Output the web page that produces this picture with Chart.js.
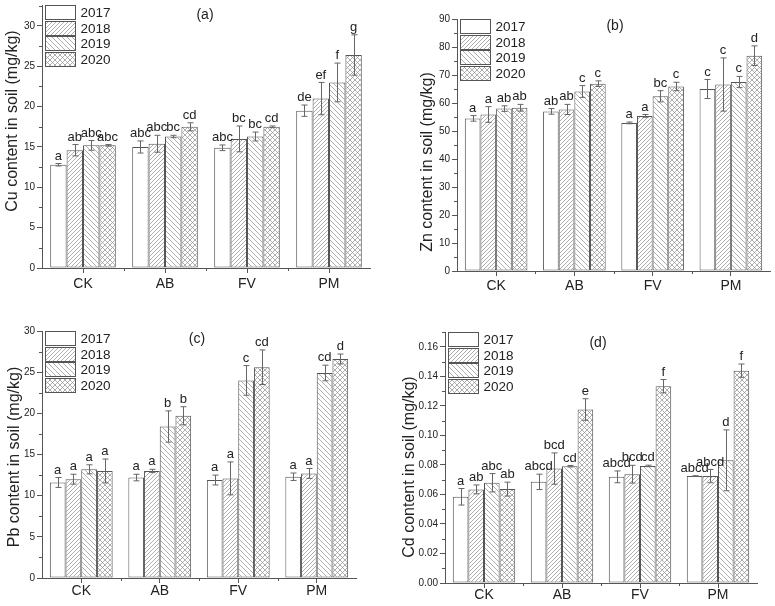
<!DOCTYPE html>
<html>
<head>
<meta charset="utf-8">
<script src="https://cdn.jsdelivr.net/npm/chart.js@4.4.0/dist/chart.umd.min.js"></script>
<style>
  html, body { margin: 0; padding: 0; background: #fff; }
  #page { position: relative; width: 775px; height: 606px; overflow: hidden; }
  canvas { position: absolute; }
</style>
</head>
<body>
<div id="page">
  <canvas id="cu"></canvas>
  <canvas id="zn"></canvas>
  <canvas id="pb"></canvas>
  <canvas id="cd"></canvas>
</div>
<script>
// categories and years
const categories = ['CK', 'AB', 'FV', 'PM'];
const years = ['2017', '2018', '2019', '2020'];

// Cu (a) - one row per year, values per category
const cuMean = [[12.8, 15.0, 14.9, 19.5], [14.6, 15.4, 16.0, 21.0], [15.2, 16.3, 16.3, 23.0], [15.2, 17.5, 17.5, 26.4]];
const cuErr = [[0.15, 0.75, 0.35, 0.7], [0.7, 1.05, 1.6, 2.0], [0.6, 0.15, 0.55, 2.4], [0.1, 0.5, 0.1, 2.5]];
const cuSig = [['a', 'abc', 'abc', 'de'], ['ab', 'abc', 'bc', 'ef'], ['abc', 'bc', 'bc', 'f'], ['abc', 'cd', 'cd', 'g']];

// Zn (b)
const znMean = [[54.5, 57.0, 52.9, 65.0], [55.9, 57.7, 55.4, 66.6], [58.0, 64.1, 62.4, 67.5], [58.3, 66.9, 65.9, 76.9]];
const znErr = [[1.0, 1.0, 0.3, 3.4], [2.8, 1.8, 0.5, 9.5], [1.0, 2.1, 2.0, 2.0], [1.2, 1.0, 1.5, 3.5]];
const znSig = [['a', 'ab', 'a', 'c'], ['a', 'ab', 'a', 'c'], ['ab', 'c', 'bc', 'c'], ['ab', 'c', 'c', 'd']];

// Pb (c)
const pbMean = [[11.6, 12.2, 11.9, 12.3], [12.0, 13.0, 12.1, 12.7], [13.2, 18.4, 24.0, 24.9], [13.0, 19.7, 25.6, 26.6]];
const pbErr = [[0.6, 0.4, 0.6, 0.45], [0.6, 0.2, 2.0, 0.6], [0.55, 1.9, 1.8, 0.95], [1.45, 1.1, 2.1, 0.6]];
const pbSig = [['a', 'a', 'a', 'a'], ['a', 'a', 'a', 'a'], ['a', 'b', 'c', 'cd'], ['a', 'b', 'cd', 'd']];

// Cd (d)
const cdMean = [[0.0584, 0.0685, 0.0719, 0.0724], [0.0634, 0.0775, 0.0737, 0.0724], [0.0679, 0.0791, 0.0793, 0.0831], [0.0636, 0.1175, 0.1333, 0.1438]];
const cdErr = [[0.0056, 0.0052, 0.004, 0.0003], [0.003, 0.0106, 0.006, 0.0045], [0.0062, 0.0005, 0.0005, 0.0206], [0.0047, 0.0073, 0.0045, 0.0045]];
const cdSig = [['a', 'abcd', 'abcd', 'abcd'], ['ab', 'bcd', 'bcd', 'abcd'], ['abc', 'cd', 'cd', 'd'], ['ab', 'e', 'f', 'f']];

const FONT = '"Liberation Sans", Arial, sans-serif';
const INK = '#222';
const LINE = '#555';

// hatch fills like the Origin patterns
function hatch(kind, s) {
    const c = document.createElement('canvas');
    c.width = s; c.height = s;
    const g = c.getContext('2d');
    g.fillStyle = '#fff';
    g.fillRect(0, 0, s, s);
    g.strokeStyle = '#8c8c8c';
    g.lineWidth = 0.7;
    g.beginPath();
    if (kind !== 'back') {
        g.moveTo(0, s); g.lineTo(s, 0);
    }
    if (kind !== 'fwd') {
        g.moveTo(0, 0); g.lineTo(s, s);
    }
    g.stroke();
    return g.createPattern(c, 'repeat');
}
const fills = ['#ffffff', hatch('fwd', 4), hatch('back', 5), hatch('cross', 5)];

// page layout: box = canvas rect, area = plot rect (page px)
const panels = [
    { id: 'cu', box: [0, -10, 387, 310], area: [42, 5, 370, 268], max: 32.6, step: 5, digits: 0,
      mean: cuMean, err: cuErr, sig: cuSig, title: 'Cu content in soil (mg/kg)', titlePos: [13, 121], tag: '(a)', tagPos: [205, 15], xPad: 3 },
    { id: 'zn', box: [387, -10, 388, 310], area: [457, 19, 770, 271], max: 90, step: 10, digits: 0,
      mean: znMean, err: znErr, sig: znSig, title: 'Zn content in soil (mg/kg)', titlePos: [428, 162], tag: '(b)', tagPos: [615, 26], xPad: 2 },
    { id: 'pb', box: [0, 290, 387, 316], area: [42, 331, 356, 578], max: 30, step: 5, digits: 0,
      mean: pbMean, err: pbErr, sig: pbSig, title: 'Pb content in soil (mg/kg)', titlePos: [15, 457], tag: '(c)', tagPos: [197, 339], xPad: 0 },
    { id: 'cd', box: [387, 290, 388, 316], area: [445, 332, 757, 583], max: 0.17, step: 0.02, digits: 2,
      mean: cdMean, err: cdErr, sig: cdSig, title: 'Cd content in soil (mg/kg)', titlePos: [410, 467], tag: '(d)', tagPos: [598, 343], xPad: -1 }
];

// error bars, letters, minor ticks, legend and labels
function decor(p) {
    const bx = p.box[0], by = p.box[1];
    return {
        id: 'decor',
        afterDraw(chart) {
            const ctx = chart.ctx;
            const xs = chart.scales.x, ys = chart.scales.y, area = chart.chartArea;
            ctx.save();
            ctx.strokeStyle = LINE;
            ctx.lineWidth = 1;

            // minor ticks
            ctx.beginPath();
            for (let v = p.step / 2; v <= p.max; v += p.step) {
                const yy = Math.round(ys.getPixelForValue(v)) + 0.5;
                ctx.moveTo(area.left - 3, yy); ctx.lineTo(area.left, yy);
            }
            for (let i = 1; i < categories.length; i++) {
                const xx = Math.round((xs.getPixelForValue(i - 1) + xs.getPixelForValue(i)) / 2) + 0.5;
                ctx.moveTo(xx, area.bottom); ctx.lineTo(xx, area.bottom + 3);
            }
            ctx.stroke();

            ctx.font = '13px ' + FONT;
            ctx.textAlign = 'center';
            ctx.textBaseline = 'bottom';
            chart.data.datasets.forEach((ds, di) => {
                chart.getDatasetMeta(di).data.forEach((bar, ci) => {
                    const v = ds.data[ci], e = p.err[di][ci];
                    const top = ys.getPixelForValue(v + e);
                    const bot = ys.getPixelForValue(v - e);
                    const x = Math.round(bar.x) + 0.5;
                    ctx.strokeStyle = '#666';
                    ctx.beginPath();
                    ctx.moveTo(x, top); ctx.lineTo(x, bot);
                    ctx.moveTo(x - 3, top); ctx.lineTo(x + 3, top);
                    ctx.moveTo(x - 3, bot); ctx.lineTo(x + 3, bot);
                    ctx.stroke();
                    ctx.fillStyle = INK;
                    ctx.fillText(p.sig[di][ci], bar.x, top - 1);
                });
            });

            // legend
            ctx.font = '13.5px ' + FONT;
            ctx.textAlign = 'left';
            ctx.textBaseline = 'middle';
            years.forEach((y, i) => {
                const lx = Math.round(area.left + 3) + 0.5;
                const ly = Math.round(area.top + i * 15.5) + 0.5;
                ctx.fillStyle = fills[i];
                ctx.fillRect(lx, ly, 30, 14);
                ctx.strokeStyle = LINE;
                ctx.strokeRect(lx, ly, 30, 14);
                ctx.fillStyle = INK;
                ctx.fillText(y, lx + 35, ly + 7.5);
            });

            // panel tag
            ctx.font = '14px ' + FONT;
            ctx.textAlign = 'center';
            ctx.fillText(p.tag, p.tagPos[0] - bx, p.tagPos[1] - by);

            // y title
            ctx.translate(p.titlePos[0] - bx, p.titlePos[1] - by);
            ctx.rotate(-Math.PI / 2);
            ctx.font = '16px ' + FONT;
            ctx.fillText(p.title, 0, 0);
            ctx.restore();
        }
    };
}

panels.forEach(p => {
    const [bx, by, bw, bh] = p.box;
    const [al, at, ar, ab] = p.area;
    const cv = document.getElementById(p.id);
    cv.width = bw;
    cv.height = bh;
    cv.style.left = bx + 'px';
    cv.style.top = by + 'px';

    new Chart(cv, {
        type: 'bar',
        data: {
            labels: categories,
            datasets: years.map((y, i) => ({
                label: y,
                data: p.mean[i],
                backgroundColor: fills[i],
                borderColor: LINE,
                borderWidth: 1,
                borderSkipped: false,
                categoryPercentage: 0.8,
                barPercentage: 1.0
            }))
        },
        options: {
            responsive: false,
            animation: false,
            layout: { padding: { left: 0, top: at - by, right: bx + bw - ar, bottom: 0 } },
            plugins: { legend: { display: false }, tooltip: { enabled: false } },
            scales: {
                x: {
                    grid: { offset: false, drawOnChartArea: false, tickLength: 5, color: LINE },
                    border: { color: LINE },
                    ticks: { font: { family: FONT, size: 14 }, color: INK, padding: p.xPad, maxRotation: 0 },
                    afterFit: s => { s.height = by + bh - ab; }
                },
                y: {
                    min: 0,
                    max: p.max,
                    grid: { drawOnChartArea: false, tickLength: 5, color: LINE },
                    border: { color: LINE },
                    ticks: {
                        stepSize: p.step,
                        includeBounds: false,
                        font: { family: FONT, size: 10 },
                        color: INK,
                        padding: 2,
                        callback: v => v.toFixed(p.digits)
                    },
                    afterFit: s => { s.width = al - bx; }
                }
            }
        },
        plugins: [decor(p)]
    });
});
</script>
</body>
</html>
